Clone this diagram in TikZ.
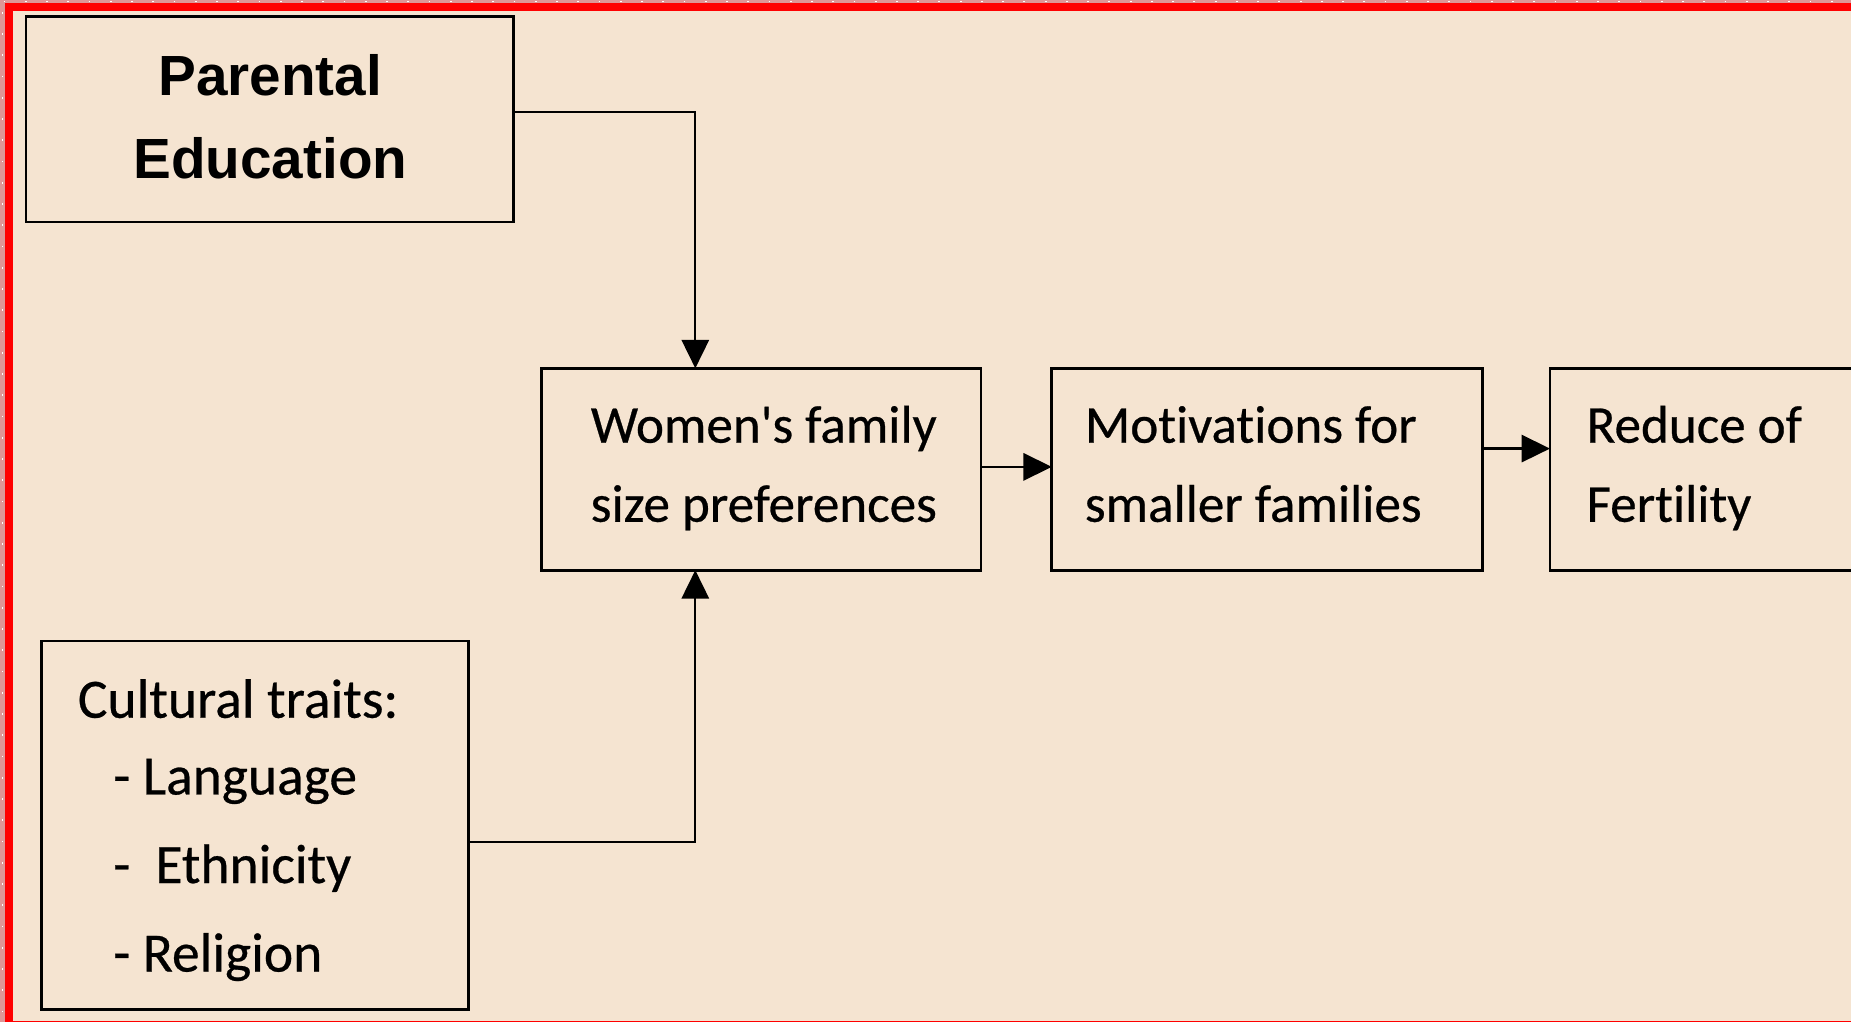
\documentclass[tikz,border=0pt]{standalone}
\usepackage{fontspec}
\setmainfont{Carlito}[Ligatures={TeXOff,CommonOff}, FakeBold=0.5]
\newfontfamily\headfont{Liberation Sans}[Ligatures=TeXOff]
\usetikzlibrary{arrows.meta}
\definecolor{paper}{RGB}{245,228,209}
\definecolor{edgepink}{RGB}{222,150,150}
\definecolor{frame}{RGB}{255,0,0}
\tikzset{
  box/.style={draw=black, line width=2.3pt, fill=paper, rectangle, anchor=north west,
              inner sep=0pt, outer sep=0pt},
  txt/.style={inner sep=0pt, outer sep=0pt, font=\fontsize{45}{54}\selectfont},
  cult/.style={inner sep=0pt, outer sep=0pt, font=\fontsize{47}{56}\selectfont, anchor=base west},
  head/.style={inner sep=0pt, outer sep=0pt, font=\headfont\bfseries\fontsize{48}{58}\selectfont, anchor=base},
  conn/.style={draw=black, line width=2pt, -{Triangle[length=24pt,width=23pt]}}
}
\begin{document}
\begin{tikzpicture}[x=1pt, y=-1pt]
  % page area and background
  \clip (0,0) rectangle (1568,866);
  \fill[paper] (0,0) rectangle (1568,866);
  % outer pink margin with dotted white trim
  \fill[edgepink] (0,0) rectangle (1568,2.3);
  \fill[edgepink] (0,0) rectangle (4.2,866);
  \draw[white, line width=1.3pt, dash pattern=on 1.5pt off 16.5pt] (3,1.2) -- (1568,1.2);
  \draw[white, line width=1.3pt, dash pattern=on 1.5pt off 16.5pt] (2.1,10) -- (2.1,866);
  % red frame
  \fill[frame] (4.2,2.3) rectangle (1568,9.3);
  \fill[frame] (4.2,2.3) rectangle (11.3,866);
  \fill[frame] (4.2,864.6) rectangle (1568,866);

  % boxes
  \node[box, minimum width=413pt, minimum height=174pt] (par) at (22,14) {};
  \node[box, minimum width=372pt, minimum height=171pt] (wom) at (459,312) {};
  \node[box, minimum width=365pt, minimum height=171pt] (mot) at (891,312) {};
  \node[box, minimum width=400pt, minimum height=171pt] (red) at (1313,312) {};
  \node[box, minimum width=362pt, minimum height=312pt] (cul) at (35,543) {};

  % texts
  \node[head] (par1) at (229,81) {Parental};
  \node[head] (par2) at (229,151) {Education};

  \node[txt, anchor=base] (wom1) at (647,375) {Women's family};
  \node[txt, anchor=base] (wom2) at (647,442) {size preferences};

  \node[txt, anchor=base west] (mot1) at (919,375) {Motivations for};
  \node[txt, anchor=base west] (mot2) at (919,442) {smaller families};

  \node[txt, anchor=base west] (red1) at (1344,375) {Reduce of};
  \node[txt, anchor=base west] (red2) at (1344,442) {Fertility};

  \node[cult] (cul1) at (66,608) {Cultural traits:};
  \node[cult] (cul2) at (66,673) {\hspace*{30pt}- Language};
  \node[cult] (cul3) at (66,748) {\hspace*{30pt}-\ \ Ethnicity};
  \node[cult] (cul4) at (66,823) {\hspace*{30pt}- Religion};

  % connectors
  \draw[conn] ([yshift=6pt]par.east) -| ([xshift=-56pt]wom.north);
  \draw[conn] ([yshift=-14.5pt]cul.east) -| ([xshift=-56pt]wom.south);
  \draw[conn] ([yshift=2pt]wom.east) -- ([yshift=2pt]mot.west);
  \draw[conn] ([yshift=17.5pt]mot.east) -- ([yshift=17.5pt]red.west);
\end{tikzpicture}
\end{document}
